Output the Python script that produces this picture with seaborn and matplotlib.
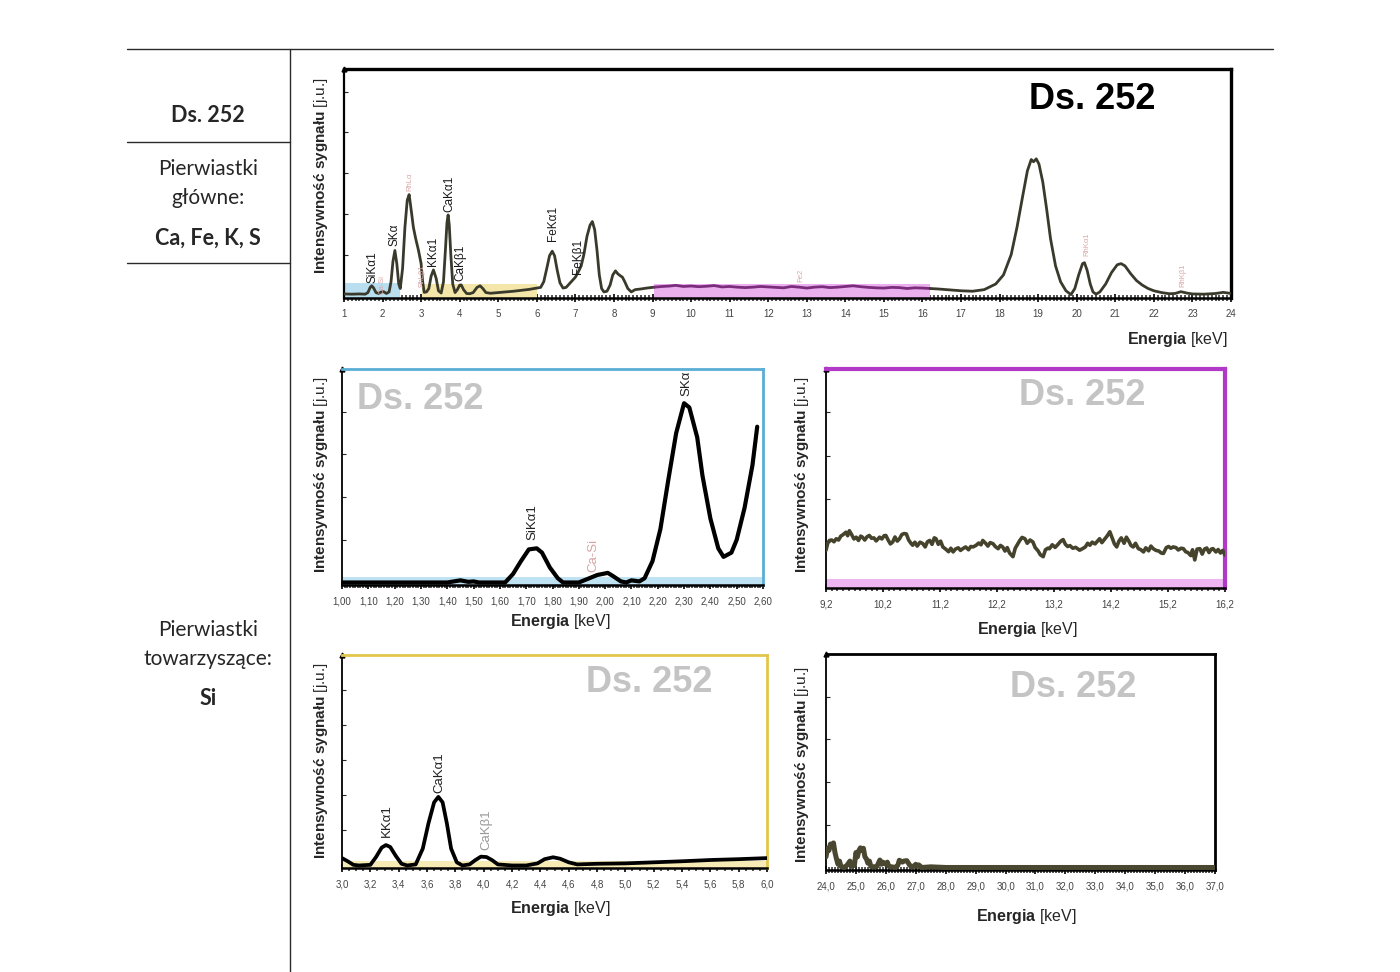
import numpy as np
import matplotlib
matplotlib.use("Agg")
import matplotlib.pyplot as plt
from matplotlib.lines import Line2D
from matplotlib.ticker import MultipleLocator, FixedLocator, FixedFormatter
import seaborn as sns

sns.set_style("white")
plt.rcParams['font.family'] = ['Liberation Sans', 'DejaVu Sans']
plt.rcParams['mathtext.fontset'] = 'custom'
plt.rcParams['mathtext.bf'] = 'Liberation Sans:bold'
plt.rcParams['mathtext.rm'] = 'Liberation Sans'
plt.rcParams['mathtext.it'] = 'Liberation Sans:italic'

# --- widmo pełne 1-24 keV ---
e_low = [1.00, 1.20, 1.40, 1.55, 1.62, 1.68, 1.72, 1.77, 1.83, 1.90, 1.97, 2.03, 2.10, 2.17,
         2.22, 2.27, 2.32, 2.37, 2.42, 2.46, 2.52, 2.58, 2.64, 2.69, 2.74, 2.80, 2.86, 2.93,
         3.00, 3.04, 3.08, 3.14, 3.20, 3.26, 3.32, 3.39, 3.45, 3.52, 3.58, 3.63, 3.67, 3.70,
         3.73, 3.77, 3.82, 3.88, 3.94, 4.00, 4.04, 4.10, 4.18, 4.26, 4.35, 4.45, 4.53, 4.60,
         4.68, 4.80, 5.00, 5.20, 5.40, 5.60, 5.80, 6.00, 6.10, 6.18, 6.26, 6.33, 6.40, 6.46,
         6.53, 6.60, 6.68, 6.76, 6.84, 6.92, 7.00, 7.08, 7.15, 7.22, 7.30, 7.38, 7.44, 7.50,
         7.56, 7.62, 7.68, 7.74, 7.82, 7.90, 7.97, 8.04, 8.10, 8.16, 8.22, 8.28, 8.36, 8.45,
         8.55, 8.70, 8.85, 9.05]
i_low = [0.6, 0.5, 0.6, 0.5, 1.2, 3.5, 4.2, 3.2, 1.2, 0.8, 1.5, 1.6, 0.8, 1.5,
         6.0, 15.0, 19.8, 14.0, 5.0, 3.0, 12.0, 30.0, 42.0, 44.5, 38.0, 30.0, 25.0, 20.0,
         14.0, 6.0, 1.3, 1.5, 3.0, 8.5, 11.2, 7.5, 2.0, 1.0, 6.0, 20.0, 32.0, 35.5,
         31.0, 18.0, 5.0, 1.2, 2.5, 4.5, 4.6, 2.5, 0.8, 0.7, 1.2, 3.5, 4.2, 3.0,
         1.2, 0.9, 1.2, 1.5, 1.8, 2.2, 2.6, 3.2, 3.5, 6.0, 12.0, 17.5, 19.5, 17.5,
         11.0, 5.5, 3.2, 3.5, 5.0, 6.5, 8.0, 10.5, 13.0, 18.0, 26.0, 31.0, 32.6, 29.0,
         20.0, 9.0, 3.0, 1.5, 1.8, 4.5, 9.0, 10.8, 9.5, 8.7, 8.0, 6.0, 3.0, 1.5,
         2.5, 2.8, 3.2, 3.6]
e_mid = [9.05, 9.25, 9.45, 9.60, 9.80, 10.00, 10.20, 10.40, 10.60, 10.80, 11.00, 11.20,
         11.40, 11.60, 11.80, 12.00, 12.20, 12.40, 12.60, 12.80, 13.00, 13.20, 13.40, 13.60,
         13.80, 14.00, 14.20, 14.40, 14.60, 14.80, 15.00, 15.20, 15.40, 15.60, 15.80, 16.00, 16.20]
i_mid = [3.6, 3.9, 4.1, 4.4, 3.9, 4.1, 3.8, 4.0, 4.3, 3.7, 3.9, 3.6,
         3.4, 3.6, 3.9, 3.7, 3.5, 3.3, 3.9, 3.6, 3.2, 3.6, 3.8, 3.4,
         3.6, 3.9, 4.2, 3.8, 3.5, 3.3, 3.2, 3.5, 3.4, 3.0, 3.3, 3.2, 3.0]
e_high = [16.20, 16.40, 16.70, 17.00, 17.30, 17.60, 17.90, 18.10, 18.30, 18.45, 18.60, 18.72,
          18.82, 18.88, 18.95, 19.02, 19.12, 19.22, 19.32, 19.45, 19.58, 19.72, 19.85, 19.95,
          20.05, 20.15, 20.20, 20.27, 20.35, 20.42, 20.50, 20.60, 20.75, 20.90, 21.05, 21.15,
          21.25, 21.40, 21.55, 21.70, 21.85, 22.00, 22.20, 22.40, 22.55, 22.70, 22.85, 23.00,
          23.30, 23.60, 23.80, 24.00]
i_high = [3.0, 2.8, 2.4, 2.0, 1.8, 2.5, 5.0, 9.0, 18.0, 30.0, 44.0, 55.0,
          60.0, 59.0, 60.3, 58.0, 50.0, 38.0, 25.0, 13.0, 6.0, 2.0, 0.3, 3.0,
          9.0, 14.0, 14.4, 11.0, 5.0, 1.5, 0.5, 1.5, 5.0, 10.0, 13.5, 14.0,
          13.0, 9.5, 6.5, 4.5, 3.0, 2.0, 1.2, 0.7, 0.8, 1.6, 1.0, 0.6,
          0.5, 0.8, 1.3, 0.8]

full_labels = ["SiKα1", "Ca-Si", "SKα", "RhLα", "RhLβ1", "KKα1", "CaKα1", "CaKβ1",
               "FeKα1", "FeKβ1", "Fe2", "RhKα1", "RhKβ1"]
full_label_e = [1.73, 2.00, 2.32, 2.71, 3.02, 3.31, 3.72, 4.03, 6.42, 7.07, 12.85, 20.26, 22.75]
full_label_i = [5.5, 0.5, 21.8, 46.3, 3.5, 13.1, 37.0, 6.5, 24.0, 9.2, 5.7, 17.5, 3.5]
full_label_rh = [False, True, False, True, True, False, False, False, False, False, True, True, True]

# zakresy powiększeń (tło w widmie pełnym)
zoom_ranges = [(1.0, 2.45), (3.02, 6.0), (9.05, 16.2)]
zoom_colors = ["#b9def0", "#f3e6a8", "#eab0ee"]
zoom_tops = [5.4, 4.9, 4.9]

# --- powiększenie 1,00-2,60 keV ---
e_si = [1.00, 1.20, 1.40, 1.45, 1.48, 1.50, 1.52, 1.62, 1.65, 1.68, 1.71, 1.74, 1.76, 1.79,
        1.82, 1.84, 1.90, 1.93, 1.97, 2.01, 2.03, 2.06, 2.08, 2.10, 2.13, 2.15, 2.18, 2.21,
        2.24, 2.27, 2.30, 2.32, 2.35, 2.37, 2.40, 2.43, 2.45, 2.48, 2.50, 2.53, 2.56, 2.578]
i_si = [0.0, 0.0, 0.0, 1.0, 0.3, 0.5, 0.0, 0.0, 4.0, 10.0, 15.5, 16.0, 14.0, 7.0,
        2.0, 0.0, 0.0, 1.5, 3.5, 4.5, 3.0, 0.5, 0.0, 1.0, 0.5, 2.0, 10.0, 25.0,
        48.0, 70.0, 84.0, 82.0, 68.0, 50.0, 30.0, 16.0, 12.0, 14.0, 20.0, 35.0, 55.0, 73.0]
si_labels = ["SiKα1", "Ca-Si", "SKα"]
si_label_e = [1.725, 1.955, 2.31]
si_label_i = [19.8, 5.0, 87.5]
si_label_col = ["#222222", "#d6a4a4", "#222222"]

# --- powiększenie 9,2-16,2 keV ---
e_bg = [9.20, 9.23, 9.26, 9.30, 9.34, 9.38, 9.42, 9.46, 9.50, 9.55, 9.58, 9.61, 9.65, 9.69,
        9.73, 9.77, 9.81, 9.84, 9.88, 9.92, 9.96, 10.00, 10.04, 10.08, 10.14, 10.18, 10.22,
        10.25, 10.29, 10.33, 10.37, 10.41, 10.45, 10.49, 10.53, 10.57, 10.61, 10.65, 10.69,
        10.72, 10.76, 10.80, 10.85, 10.90, 10.94, 10.98, 11.02, 11.06, 11.10, 11.13, 11.17,
        11.21, 11.25, 11.30, 11.35, 11.39, 11.43, 11.47, 11.52, 11.56, 11.60, 11.65, 11.70,
        11.74, 11.78, 11.83, 11.88, 11.92, 11.95, 12.00, 12.04, 12.08, 12.13, 12.17, 12.22,
        12.26, 12.30, 12.34, 12.38, 12.42, 12.48, 12.52, 12.56, 12.60, 12.64, 12.69, 12.73,
        12.78, 12.83, 12.87, 12.92, 12.96, 13.01, 13.05, 13.09, 13.12, 13.17, 13.22, 13.27,
        13.32, 13.36, 13.40, 13.44, 13.48, 13.53, 13.58, 13.65, 13.70, 13.75, 13.79, 13.83,
        13.87, 13.92, 13.96, 14.00, 14.04, 14.09, 14.13, 14.18, 14.22, 14.26, 14.30, 14.34,
        14.38, 14.43, 14.47, 14.51, 14.55, 14.59, 14.63, 14.68, 14.72, 14.77, 14.81, 14.86,
        14.90, 14.94, 14.99, 15.04, 15.08, 15.12, 15.17, 15.21, 15.25, 15.29, 15.34, 15.38,
        15.43, 15.47, 15.51, 15.55, 15.60, 15.63, 15.67, 15.71, 15.76, 15.80, 15.84, 15.88,
        15.92, 15.96, 15.99, 16.04, 16.08, 16.12, 16.16, 16.20]
i_bg = [16.3, 19.5, 20.8, 21.0, 20.2, 21.6, 21.0, 22.8, 23.5, 24.6, 23.0, 25.3, 23.5, 21.5,
        22.3, 20.8, 22.8, 22.3, 21.0, 22.5, 23.1, 21.8, 22.0, 20.6, 22.3, 21.5, 23.0,
        23.1, 21.0, 19.2, 20.1, 22.4, 20.5, 21.6, 23.5, 24.0, 23.8, 21.0, 19.5,
        18.6, 20.0, 18.2, 20.0, 19.3, 17.8, 20.2, 20.8, 19.0, 22.0, 21.6, 19.0,
        20.5, 17.8, 16.8, 15.6, 17.2, 15.5, 16.8, 17.4, 16.2, 17.0, 17.8, 16.5,
        18.0, 17.8, 18.5, 19.6, 18.8, 20.8, 19.5, 18.2, 19.8, 19.3, 18.0, 17.0,
        18.5, 17.8, 15.9, 17.5, 15.0, 13.3, 17.2, 19.0, 20.8, 22.2, 21.6, 19.5,
        21.0, 20.1, 17.5, 16.0, 14.2, 13.3, 16.5, 17.2, 17.0, 18.8, 17.6, 19.0,
        20.5, 21.2, 19.0, 18.0, 18.4, 17.2, 17.6, 16.3, 17.0, 17.8, 19.5, 18.6,
        20.0, 19.2, 20.4, 21.6, 19.8, 21.5, 22.8, 24.8, 22.0, 19.2, 17.8, 20.5,
        22.0, 19.5, 22.3, 20.6, 18.5, 17.8, 19.5, 17.0, 16.6, 15.5, 17.4, 16.0,
        18.2, 17.0, 16.2, 15.9, 15.0, 14.8, 17.5, 18.0, 17.2, 17.8, 17.5, 16.4,
        17.2, 17.0, 15.6, 15.2, 13.8, 16.5, 11.8, 16.8, 17.0, 14.5, 16.8, 17.3,
        15.2, 16.8, 17.0, 15.5, 16.6, 15.0, 16.2, 14.0]

# --- powiększenie 3,0-6,0 keV ---
e_ca = [3.00, 3.04, 3.08, 3.12, 3.20, 3.24, 3.28, 3.31, 3.34, 3.38, 3.42, 3.46, 3.52, 3.57,
        3.61, 3.65, 3.68, 3.71, 3.74, 3.77, 3.81, 3.85, 3.90, 3.94, 3.98, 4.02, 4.06, 4.10,
        4.20, 4.30, 4.38, 4.43, 4.49, 4.54, 4.60, 4.66, 4.80, 5.00, 5.20, 5.40, 5.60, 5.80, 6.00]
i_ca = [3.5, 2.0, 0.3, 0.0, 0.3, 4.0, 8.5, 9.7, 8.8, 4.5, 0.8, 0.0, 0.5, 8.0,
        20.0, 30.0, 32.6, 30.0, 20.0, 8.0, 1.5, 0.0, 0.5, 2.5, 4.2, 4.0, 2.5, 0.5,
        0.0, 0.0, 1.0, 3.0, 3.9, 3.2, 1.5, 0.5, 0.8, 1.0, 1.5, 2.0, 2.6, 3.0, 3.5]
ca_labels = ["KKα1", "CaKα1", "CaKβ1"]
ca_label_e = [3.32, 3.69, 4.02]
ca_label_i = [13.5, 34.6, 7.3]
ca_label_col = ["#222222", "#222222", "#9a9a9a"]

# --- powiększenie 24-37 keV ---
e_hi = [24.00, 24.05, 24.10, 24.15, 24.20, 24.25, 24.30, 24.35, 24.40, 24.45, 24.50, 24.60,
        24.70, 24.80, 24.85, 24.95, 25.00, 25.05, 25.10, 25.15, 25.20, 25.25, 25.30, 25.35,
        25.40, 25.45, 25.50, 25.60, 25.70, 25.80, 25.85, 25.90, 26.00, 26.05, 26.10, 26.20,
        26.30, 26.40, 26.45, 26.55, 26.60, 26.70, 26.80, 26.90, 27.00, 27.05, 27.10, 27.20,
        27.50, 28.00, 30.00, 33.00, 37.00]
i_hi = [5.0, 9.0, 8.0, 11.0, 10.0, 11.5, 7.0, 4.0, 1.5, 3.0, 0.5, 0.0,
        1.0, 3.0, 0.5, 1.0, 7.0, 5.0, 8.0, 9.2, 8.0, 9.0, 5.0, 4.0,
        2.0, 3.0, 0.5, 0.3, 0.5, 3.5, 1.5, 2.5, 1.5, 2.5, 0.5, 0.3,
        0.0, 1.0, 3.4, 2.5, 3.0, 3.2, 1.0, 0.2, 1.5, 0.5, 1.2, 0.0,
        0.3, 0.0, 0.0, 0.0, 0.0]

ylab = r"$\mathbf{Intensywność\ sygnału}$ [j.u.]"
xlab = r"$\mathbf{Energia}$ [keV]"

fig = plt.figure(figsize=(14, 9.72), dpi=100)


def style(ax, xlim, majors, labels, minor, ytk, edge, elw):
    ax.set_xlim(*xlim)
    ax.set_ylim(-1.2, 100)
    ax.xaxis.set_major_locator(FixedLocator(majors))
    ax.xaxis.set_major_formatter(FixedFormatter(labels))
    ax.xaxis.set_minor_locator(MultipleLocator(minor))
    ax.yaxis.set_major_locator(FixedLocator(ytk))
    ax.set_yticklabels([])
    ax.tick_params(axis="x", which="major", direction="inout", length=6, width=1.4,
                   labelsize=7, labelcolor="#444444", pad=5, bottom=True)
    ax.tick_params(axis="x", which="minor", direction="inout", length=4.5, width=1.1, bottom=True)
    ax.tick_params(axis="y", which="major", direction="in", length=3, width=0.8, left=True)
    for s in ["top", "right"]:
        ax.spines[s].set_color(edge)
        ax.spines[s].set_linewidth(elw)
    ax.spines["left"].set_color("black")
    ax.spines["left"].set_linewidth(1.3)
    ax.spines["bottom"].set_color("black")
    ax.spines["bottom"].set_linewidth(1.8)
    ax.set_xlabel("")
    ax.set_ylabel("")
    ax.plot(0, 1, marker="^", ms=3.5, color="black", transform=ax.transAxes, clip_on=False)


def line(ax, e, i, col, lw):
    sns.lineplot(x=e, y=i, ax=ax, color=col, linewidth=lw, sort=False,
                 estimator=None, legend=False, zorder=3)


# ---------- widmo pełne ----------
ax0 = fig.add_axes([0.2457, 0.6934, 0.6336, 0.2356])
for (a, b), c, t in zip(zoom_ranges, zoom_colors, zoom_tops):
    ax0.fill_between([a, b], -1.2, t, color=c, zorder=1, lw=0)
line(ax0, e_low, i_low, "#3a3a2c", 2.0)
line(ax0, e_mid, i_mid, "#7c2c7c", 2.0)
line(ax0, e_high, i_high, "#3a3a2c", 2.0)
style(ax0, (1, 24), list(range(1, 25)), [str(v) for v in range(1, 25)], 0.1,
      [18, 36, 54, 72, 90], "black", 2.4)
ax0.spines["left"].set_linewidth(1.6)
for lab, e, i, rh in zip(full_labels, full_label_e, full_label_i, full_label_rh):
    ax0.text(e, i, lab, rotation=90, ha="center", va="bottom",
             fontsize=5.5 if rh else 8.5, color="#d9a8a8" if rh else "#1a1a1a", zorder=4)
ax0.text(0.843, 0.865, "Ds. 252", transform=ax0.transAxes, ha="center", va="center",
         fontsize=26, fontweight="bold", color="black")
ax0.text(-0.026, 0.533, ylab, transform=ax0.transAxes, rotation=90, ha="center",
         va="center", fontsize=11)
ax0.text(0.9955, -0.183, xlab, transform=ax0.transAxes, ha="right", va="center", fontsize=11.5)

# ---------- 1,00-2,60 ----------
ax1 = fig.add_axes([0.2443, 0.3981, 0.3007, 0.2222])
ax1.fill_between([1.0, 2.6], -1.2, 2.8, color="#bfe3f3", zorder=1, lw=0)
line(ax1, e_si, i_si, "black", 3.0)
style(ax1, (1.0, 2.6), [1.0 + 0.1 * k for k in range(17)],
      [f"{1.0 + 0.1 * k:.2f}".replace(".", ",") for k in range(17)], 0.01,
      [20, 40, 60, 80], "#5aaed6", 2.0)
for lab, e, i, c in zip(si_labels, si_label_e, si_label_i, si_label_col):
    ax1.text(e, i, lab, rotation=90, ha="center", va="bottom", fontsize=9.5, color=c, zorder=4)
ax1.text(0.185, 0.857, "Ds. 252", transform=ax1.transAxes, ha="center", va="center",
         fontsize=26, fontweight="bold", color="#c4c4c4")
ax1.text(-0.05, 0.51, ylab, transform=ax1.transAxes, rotation=90, ha="center",
         va="center", fontsize=11)
ax1.text(0.518, -0.171, xlab, transform=ax1.transAxes, ha="center", va="center", fontsize=11.5)

# ---------- 9,2-16,2 ----------
ax2 = fig.add_axes([0.59, 0.395, 0.285, 0.2253])
ax2.fill_between([9.2, 16.2], -1.2, 3.2, color="#efb4f2", zorder=1, lw=0)
line(ax2, e_bg, i_bg, "#45432c", 2.6)
style(ax2, (9.2, 16.2), [9.2 + k for k in range(8)],
      [f"{9.2 + k:.1f}".replace(".", ",") for k in range(8)], 0.1,
      [20, 40, 60, 80], "#b238c8", 3.0)
ax2.text(0.642, 0.881, "Ds. 252", transform=ax2.transAxes, ha="center", va="center",
         fontsize=26, fontweight="bold", color="#c4c4c4")
ax2.text(-0.06, 0.516, ylab, transform=ax2.transAxes, rotation=90, ha="center",
         va="center", fontsize=11)
ax2.text(0.504, -0.187, xlab, transform=ax2.transAxes, ha="center", va="center", fontsize=11.5)

# ---------- 3,0-6,0 ----------
ax3 = fig.add_axes([0.2443, 0.107, 0.3036, 0.2191])
ax3.fill_between([3.0, 6.0], -1.2, 2.0, color="#f6ebb4", zorder=1, lw=0)
line(ax3, e_ca, i_ca, "black", 2.7)
style(ax3, (3.0, 6.0), [3.0 + 0.2 * k for k in range(16)],
      [f"{3.0 + 0.2 * k:.1f}".replace(".", ",") for k in range(16)], 0.05,
      [16.7, 33.4, 50.1, 66.8, 83.5], "#e2c64c", 2.0)
for lab, e, i, c in zip(ca_labels, ca_label_e, ca_label_i, ca_label_col):
    ax3.text(e, i, lab, rotation=90, ha="center", va="bottom", fontsize=9.5, color=c, zorder=4)
ax3.text(0.722, 0.869, "Ds. 252", transform=ax3.transAxes, ha="center", va="center",
         fontsize=26, fontweight="bold", color="#c4c4c4")
ax3.text(-0.049, 0.502, ylab, transform=ax3.transAxes, rotation=90, ha="center",
         va="center", fontsize=11)
ax3.text(0.513, -0.188, xlab, transform=ax3.transAxes, ha="center", va="center", fontsize=11.5)

# ---------- 24-37 ----------
ax4 = fig.add_axes([0.59, 0.1049, 0.2779, 0.2222])
line(ax4, e_hi, i_hi, "#4a4730", 3.6)
style(ax4, (24.0, 37.0), [24.0 + k for k in range(14)],
      [f"{24.0 + k:.1f}".replace(".", ",") for k in range(14)], 0.1,
      [20, 40, 60, 80], "black", 2.0)
ax4.text(0.635, 0.847, "Ds. 252", transform=ax4.transAxes, ha="center", va="center",
         fontsize=26, fontweight="bold", color="#c4c4c4")
ax4.text(-0.062, 0.49, ylab, transform=ax4.transAxes, rotation=90, ha="center",
         va="center", fontsize=11)
ax4.text(0.514, -0.213, xlab, transform=ax4.transAxes, ha="center", va="center", fontsize=11.5)

# ---------- tabela po lewej ----------
for xs, ys in [([0.0907, 0.9093], [0.9496, 0.9496]), ([0.2071, 0.2071], [0.9496, 0.0]),
               ([0.0907, 0.2071], [0.8539, 0.8539]), ([0.0907, 0.2071], [0.7294, 0.7294])]:
    fig.add_artist(Line2D(xs, ys, color="#2a2a2a", lw=1.0, transform=fig.transFigure))

tfont = ["Lato", "DejaVu Sans"]
fig.text(0.1486, 0.8807, "Ds. 252", ha="center", va="center", fontsize=15.5,
         fontweight="bold", family=tfont)
fig.text(0.1486, 0.8261, "Pierwiastki", ha="center", va="center", fontsize=15, family=tfont)
fig.text(0.1486, 0.7963, "główne:", ha="center", va="center", fontsize=15, family=tfont)
fig.text(0.1486, 0.7551, "Ca, Fe, K, S", ha="center", va="center", fontsize=15.5,
         fontweight="bold", family=tfont)
fig.text(0.1486, 0.3519, "Pierwiastki", ha="center", va="center", fontsize=15, family=tfont)
fig.text(0.1486, 0.3220, "towarzyszące:", ha="center", va="center", fontsize=15, family=tfont)
fig.text(0.1486, 0.2809, "Si", ha="center", va="center", fontsize=15.5,
         fontweight="bold", family=tfont)

fig.savefig("out.png", dpi=100)
